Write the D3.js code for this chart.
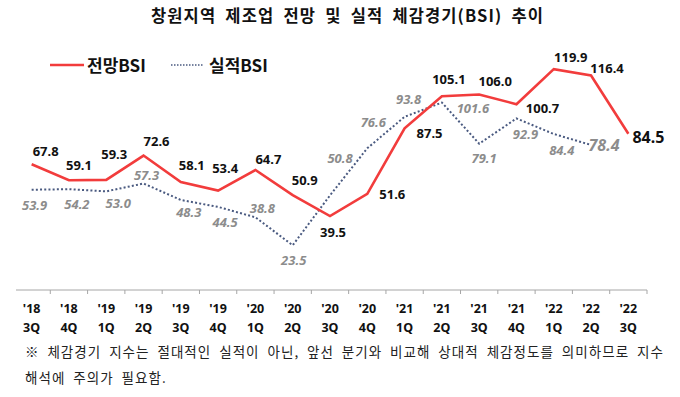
<!DOCTYPE html>
<html>
<head>
<meta charset="utf-8">
<script src="https://cdn.jsdelivr.net/npm/d3@7/dist/d3.min.js"></script>
<style>
  html, body { margin: 0; padding: 0; background: #fff; }
  svg { display: block; }
</style>
</head>
<body>
<svg id="chart" width="680" height="397"></svg>
<script>
// ---- data ----
const categories = ["'18 3Q","'18 4Q","'19 1Q","'19 2Q","'19 3Q","'19 4Q","'20 1Q","'20 2Q","'20 3Q","'20 4Q","'21 1Q","'21 2Q","'21 3Q","'21 4Q","'22 1Q","'22 2Q","'22 3Q"];
const forecastBSI = [67.8,59.1,59.3,72.6,58.1,53.4,64.7,50.9,39.5,51.6,87.5,105.1,106.0,100.7,119.9,116.4,84.5];
const actualBSI   = [53.9,54.2,53.0,57.3,48.3,44.5,38.8,23.5,50.8,76.6,93.8,101.6,79.1,92.9,84.4,78.4];
const seriesNames = ["전망BSI","실적BSI"];
const titleText = "창원지역 제조업 전망 및 실적 체감경기(BSI) 추이";
const noteLines = ["※ 체감경기 지수는 절대적인 실적이 아닌, 앞선 분기와 비교해 상대적 체감정도를 의미하므로 지수", "해석에 주의가 필요함."];

// label offsets (layout, separate from data)
const forecastLabelOffset = [[14,-13],[10,-15],[8,-26],[13,-15],[11,-17],[7,-23],[13,-11],[12,-15],[3,16],[25,0],[25,5],[7,-17],[16,-14],[26,3.5],[17,-12],[16,-8],[20,3.5]];
const actualLabelOffset   = [[3,15],[8,15],[12,12],[3,-8.5],[8,12],[7,15],[7,-9.5],[1,15],[10,-37],[6,-26],[4,-18],[31,5],[5,14],[9,16],[8,16],[13,0]];

const svg = d3.select("#chart");
const KR = "'Noto Sans CJK KR', 'Noto Sans', sans-serif";
const NUM = "'Noto Sans', 'Open Sans', sans-serif";

const x = d3.scaleBand().domain(categories).range([13, 647]).paddingInner(0).paddingOuter(0);
const y = d3.scaleLinear().domain([0, 140]).range([288.2, 32.4]);
const cx = c => x(c) + x.bandwidth() / 2;

// fit text to a width, splitting extra room between letters and word gaps
function fitText(sel, target, wordShare) {
  const node = sel.node();
  const w = node.getComputedTextLength();
  const txt = node.textContent;
  const spaces = (txt.match(/ /g) || []).length;
  const extra = target - w;
  const ls = extra * (1 - wordShare) / (txt.length - 1);
  const ws = spaces ? extra * wordShare / spaces : 0;
  sel.style("letter-spacing", ls + "px").style("word-spacing", ws + "px");
  return {ls, ws};
}

// title
const title = svg.append("text")
  .attr("x", 151).attr("y", 15)
  .attr("dominant-baseline", "central")
  .style("font-family", KR).style("font-size", "16.5px").style("font-weight", 700)
  .attr("fill", "#111")
  .text(titleText);
fitText(title, 392, 0.45);

// x axis
const axisG = svg.append("g");
axisG.append("line").attr("x1", 16).attr("x2", x.range()[1]).attr("y1", 290).attr("y2", 290)
  .attr("stroke", "#a6a6a6").attr("stroke-width", 1);
const bounds = categories.slice(1).map(c => x(c)).concat([x.range()[1]]);
axisG.selectAll("line.tick").data(bounds).enter().append("line")
  .attr("class", "tick")
  .attr("x1", d => d).attr("x2", d => d).attr("y1", 290).attr("y2", 294)
  .attr("stroke", "#a6a6a6").attr("stroke-width", 1);
const tl = axisG.selectAll("text.tl").data(categories).enter().append("text")
  .attr("class", "tl")
  .attr("text-anchor", "middle")
  .style("font-family", NUM).style("font-size", "12.5px").style("font-weight", 700)
  .attr("fill", "#111");
tl.append("tspan").attr("x", d => cx(d)).attr("y", 308.5).attr("dominant-baseline", "central").text(d => d.split(" ")[0]);
tl.append("tspan").attr("x", d => cx(d)).attr("y", 327).attr("dominant-baseline", "central").text(d => d.split(" ")[1]);

// lines
const fData = forecastBSI.map((v, i) => ({c: categories[i], v, o: forecastLabelOffset[i], i}));
const aData = actualBSI.map((v, i) => ({c: categories[i], v, o: actualLabelOffset[i], i}));
const line = d3.line().x(d => cx(d.c)).y(d => y(d.v));

svg.append("path").datum(aData).attr("d", line)
  .attr("fill", "none").attr("stroke", "#4a5a80").attr("stroke-width", 2)
  .attr("stroke-dasharray", "2,2.2");
svg.append("path").datum(fData).attr("d", line)
  .attr("fill", "none").attr("stroke", "#f23c3c").attr("stroke-width", 2.6)
  .attr("stroke-linejoin", "miter");

// labels
svg.selectAll("text.fl").data(fData).enter().append("text")
  .attr("class", "fl")
  .attr("x", d => cx(d.c) + d.o[0]).attr("y", d => y(d.v) + d.o[1])
  .attr("text-anchor", "middle").attr("dominant-baseline", "central")
  .style("font-family", NUM)
  .style("font-size", d => d.i === fData.length - 1 ? "16px" : "13px")
  .style("font-weight", 700)
  .attr("fill", "#111")
  .text(d => d.v.toFixed(1));

svg.selectAll("text.al").data(aData).enter().append("text")
  .attr("class", "al")
  .attr("x", d => cx(d.c) + d.o[0]).attr("y", d => y(d.v) + d.o[1])
  .attr("text-anchor", "middle").attr("dominant-baseline", "central")
  .style("font-family", NUM)
  .style("font-size", d => d.i === aData.length - 1 ? "16px" : "13px")
  .style("font-weight", 700).style("font-style", "italic")
  .attr("fill", "#8c8c8c")
  .text(d => d.v.toFixed(1));

// legend
const lg = svg.append("g");
lg.append("line").attr("x1", 50).attr("x2", 84).attr("y1", 65).attr("y2", 65)
  .attr("stroke", "#f23c3c").attr("stroke-width", 2.6);
lg.append("text").attr("x", 87).attr("y", 64).attr("dominant-baseline", "central")
  .style("font-family", KR).style("font-size", "17px").style("font-weight", 700)
  .attr("fill", "#111").text(seriesNames[0]);
lg.append("line").attr("x1", 171).attr("x2", 204).attr("y1", 65).attr("y2", 65)
  .attr("stroke", "#4a5a80").attr("stroke-width", 1.6).attr("stroke-dasharray", "1.5,1.5");
lg.append("text").attr("x", 209).attr("y", 64).attr("dominant-baseline", "central")
  .style("font-family", KR).style("font-size", "17px").style("font-weight", 700)
  .attr("fill", "#111").text(seriesNames[1]);

// footnote
const n1 = svg.append("text").attr("x", 25).attr("y", 350.5).attr("dominant-baseline", "central")
  .style("font-family", KR).style("font-size", "13.5px")
  .attr("fill", "#222").text(noteLines[0]);
const sp = fitText(n1, 638, 0.45);
svg.append("text").attr("x", 25).attr("y", 377).attr("dominant-baseline", "central")
  .style("font-family", KR).style("font-size", "13.5px")
  .style("letter-spacing", sp.ls + "px").style("word-spacing", sp.ws + "px")
  .attr("fill", "#222").text(noteLines[1]);
</script>
</body>
</html>
